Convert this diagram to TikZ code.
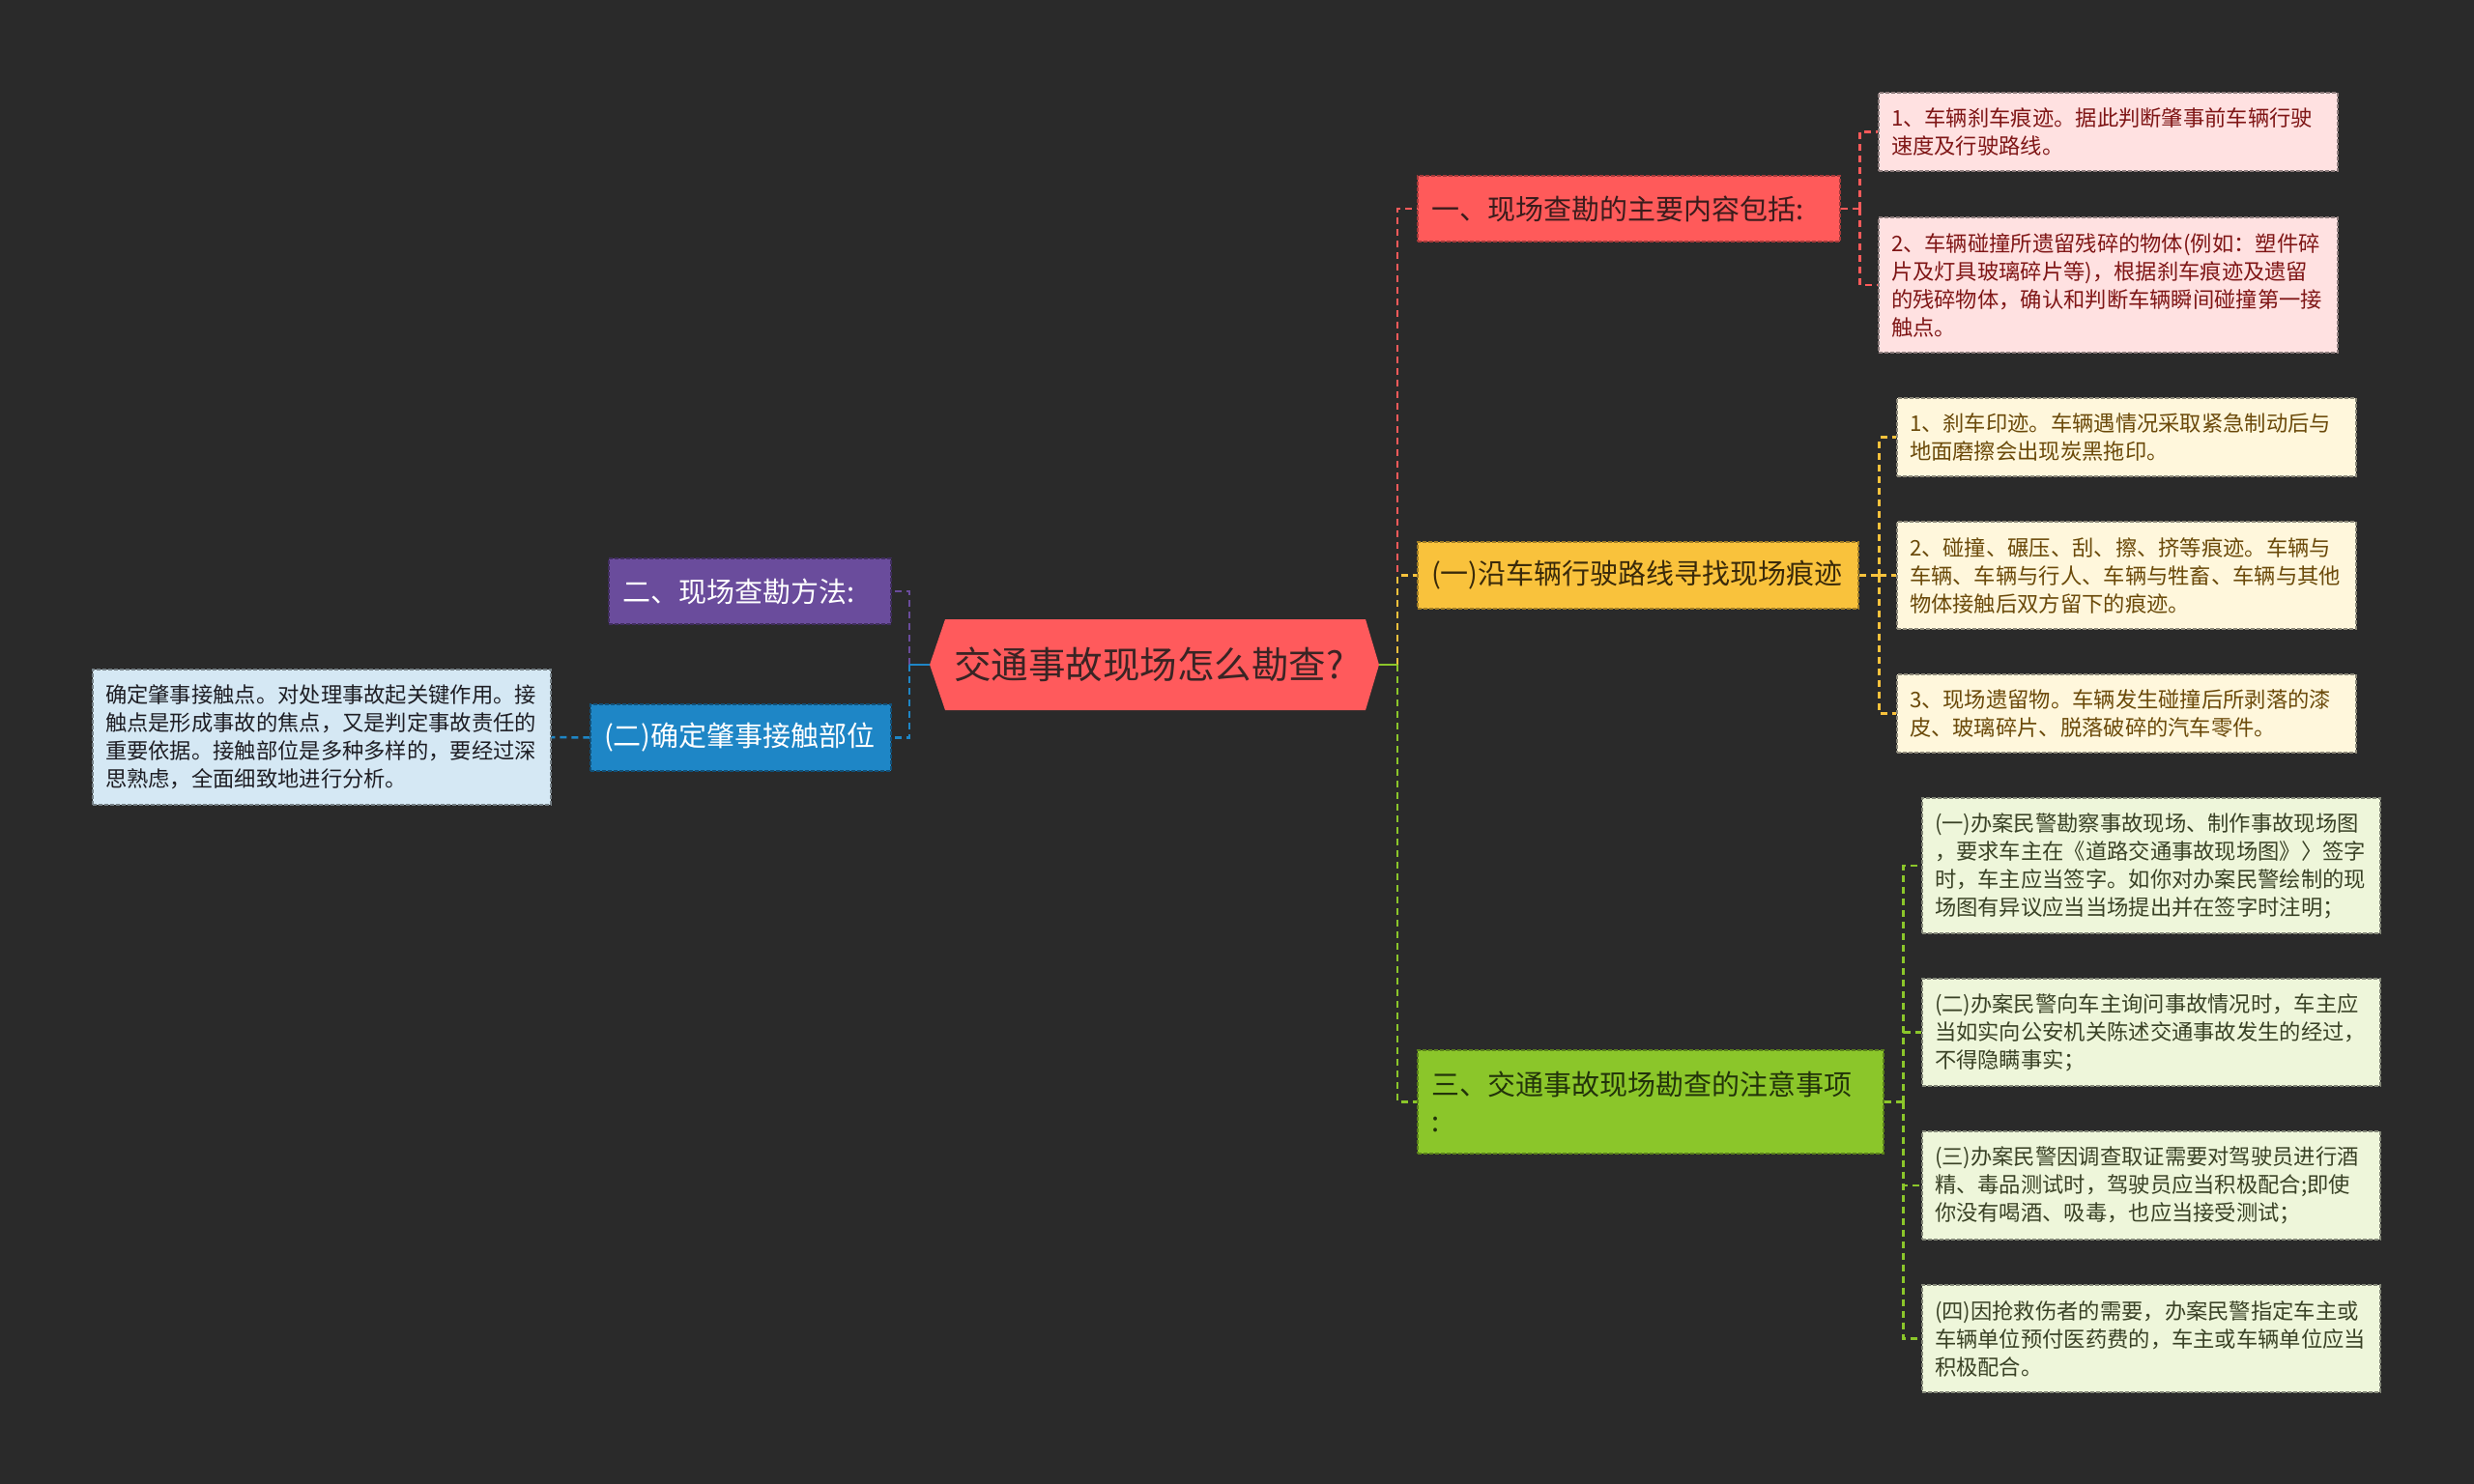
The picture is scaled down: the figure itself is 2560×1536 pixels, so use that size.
\documentclass[tikz,border=0pt]{standalone}
\usepackage{fontspec}
\setmainfont{Noto Sans CJK SC}
\definecolor{bg}{HTML}{2A2A2A}
\definecolor{cenF}{HTML}{FF5A5C}
\definecolor{cenT}{HTML}{3A2424}
\definecolor{redF}{HTML}{FF5A5A}
\definecolor{redT}{HTML}{3A1C1C}
\definecolor{redLF}{HTML}{FFE1E1}
\definecolor{redLT}{HTML}{7F1616}
\definecolor{yelF}{HTML}{F9C23C}
\definecolor{yelT}{HTML}{3A2A0A}
\definecolor{yelLF}{HTML}{FFF7DC}
\definecolor{yelLT}{HTML}{6B4A0A}
\definecolor{grnF}{HTML}{8BC62A}
\definecolor{grnT}{HTML}{22330A}
\definecolor{grnLF}{HTML}{EEF6DA}
\definecolor{grnLT}{HTML}{3A4226}
\definecolor{purF}{HTML}{6A4C9C}
\definecolor{bluF}{HTML}{1E86C6}
\definecolor{bluLF}{HTML}{D5E8F4}
\definecolor{bluLT}{HTML}{1E1E24}
\begin{document}
\begin{tikzpicture}[x=1pt,y=-1pt,
  box/.style={rectangle, draw, dash pattern=on 4pt off 2pt, line width=1.2pt, inner ysep=0pt, align=left, anchor=center},
  mainbox/.style={box, inner xsep=14pt, font=\fontsize{29pt}{38pt}\selectfont},
  leafbox/.style={box, inner xsep=13pt, font=\fontsize{22.3pt}{29pt}\selectfont},
  nRed/.style={mainbox, fill=redF, draw=redF!65!black, text=redT},
  nYel/.style={mainbox, fill=yelF, draw=yelF!65!black, text=yelT},
  nGrn/.style={mainbox, fill=grnF, draw=grnF!65!black, text=grnT},
  nPur/.style={mainbox, fill=purF, draw=purF!60!black, text=white},
  nBlu/.style={mainbox, fill=bluF, draw=bluF!60!black, text=white},
  lRed/.style={leafbox, fill=redLF, draw=redLF!55!black, text=redLT},
  lYel/.style={leafbox, fill=yelLF, draw=yelLF!55!black, text=yelLT},
  lGrn/.style={leafbox, fill=grnLF, draw=grnLF!55!black, text=grnLT},
  lBlu/.style={leafbox, fill=bluLF, draw=bluLF!55!black, text=bluLT},
  link/.style={line width=2.5pt, dash pattern=on 7pt off 5pt},
  solidlink/.style={line width=2.6pt}
]
\fill[bg] (0,0) rectangle (2560,1536);
\useasboundingbox (0,0) rectangle (2560,1536);

% centre
\fill[cenF] (962,688) -- (978,641) -- (1413,641) -- (1427,688) -- (1413,735) -- (978,735) -- cycle;
\node[minimum width=465pt, minimum height=94pt, inner sep=0pt, text=cenT, font=\fontsize{38.5pt}{44pt}\selectfont] (c) at (1189,688) {交通事故现场怎么勘查?};
\coordinate (tr) at (1446,688);
\coordinate (tl) at (941,688);

% main branches
\node[nRed, minimum width=437pt, minimum height=68pt, text width=409pt] (n1) at (1685.5,216) {一、现场查勘的主要内容包括:};
\node[nYel, minimum width=456pt, minimum height=69pt, text width=428pt] (n2) at (1695,595.5) {(一)沿车辆行驶路线寻找现场痕迹};
\node[nGrn, minimum width=482pt, minimum height=107pt, text width=454pt] (n3) at (1708,1140.5) {三、交通事故现场勘查的注意事项\\:};
\node[nPur, minimum width=292pt, minimum height=68pt, text width=264pt] (p) at (776,612) {二、现场查勘方法:};
\node[nBlu, minimum width=311pt, minimum height=69pt, text width=283pt] (b) at (766.5,763.5) {(二)确定肇事接触部位};

% leaves
\node[lRed, minimum width=475pt, minimum height=81pt, text width=449pt] (r1) at (2181.5,136.5) {1、车辆刹车痕迹。据此判断肇事前车辆行驶\\速度及行驶路线。};
\node[lRed, minimum width=475pt, minimum height=140pt, text width=449pt] (r2) at (2181.5,295) {2、车辆碰撞所遗留残碎的物体(例如：塑件碎\\片及灯具玻璃碎片等)，根据刹车痕迹及遗留\\的残碎物体，确认和判断车辆瞬间碰撞第一接\\触点。};
\node[lYel, minimum width=475pt, minimum height=81pt, text width=449pt] (y1) at (2200.5,452.5) {1、刹车印迹。车辆遇情况采取紧急制动后与\\地面磨擦会出现炭黑拖印。};
\node[lYel, minimum width=475pt, minimum height=111pt, text width=449pt] (y2) at (2200.5,595.5) {2、碰撞、碾压、刮、擦、挤等痕迹。车辆与\\车辆、车辆与行人、车辆与牲畜、车辆与其他\\物体接触后双方留下的痕迹。};
\node[lYel, minimum width=475pt, minimum height=81pt, text width=449pt] (y3) at (2200.5,738.5) {3、现场遗留物。车辆发生碰撞后所剥落的漆\\皮、玻璃碎片、脱落破碎的汽车零件。};
\node[lGrn, minimum width=474pt, minimum height=140pt, text width=448pt] (g1) at (2226,896) {(一)办案民警勘察事故现场、制作事故现场图\\，要求车主在《道路交通事故现场图》〉签字\\时，车主应当签字。如你对办案民警绘制的现\\场图有异议应当当场提出并在签字时注明；};
\node[lGrn, minimum width=474pt, minimum height=111pt, text width=448pt] (g2) at (2226,1068.5) {(二)办案民警向车主询问事故情况时，车主应\\当如实向公安机关陈述交通事故发生的经过，\\不得隐瞒事实；};
\node[lGrn, minimum width=474pt, minimum height=112pt, text width=448pt] (g3) at (2226,1227) {(三)办案民警因调查取证需要对驾驶员进行酒\\精、毒品测试时，驾驶员应当积极配合;即使\\你没有喝酒、吸毒，也应当接受测试；};
\node[lGrn, minimum width=474pt, minimum height=111pt, text width=448pt] (g4) at (2226,1385.5) {(四)因抢救伤者的需要，办案民警指定车主或\\车辆单位预付医药费的，车主或车辆单位应当\\积极配合。};
\node[lBlu, minimum width=474pt, minimum height=140pt, text width=448pt] (bl) at (333,763) {确定肇事接触点。对处理事故起关键作用。接\\触点是形成事故的焦点，又是判定事故责任的\\重要依据。接触部位是多种多样的，要经过深\\思熟虑，全面细致地进行分析。};

% connectors: centre to branches
\draw[link, redF] (tr) |- (n1.west);
\draw[link, yelF] (tr) |- (n2.west);
\draw[link, grnF] (tr) |- (n3.west);
\draw[solidlink, grnF] (1427,688) -- (tr);
\draw[link, purF] (tl) |- (p.east);
\draw[link, bluF] (tl) |- (b.east);
\draw[solidlink, bluF] (962,688) -- (tl);

% branch to leaves
\draw[link, redF] (n1.east) -- ++(20,0) coordinate (rj);
\draw[link, redF] (rj) |- (r1.west);
\draw[link, redF] (rj) |- (r2.west);
\draw[link, yelF] (n2.east) -- ++(21,0) coordinate (yj);
\draw[link, yelF] (yj) |- (y1.west);
\draw[link, yelF] (yj) |- (y2.west);
\draw[link, yelF] (yj) |- (y3.west);
\draw[link, grnF] (n3.east) -- ++(20,0) coordinate (gj);
\draw[link, grnF] (gj) |- (g1.west);
\draw[link, grnF] (gj) |- (g2.west);
\draw[link, grnF] (gj) |- (g3.west);
\draw[link, grnF] (gj) |- (g4.west);
\draw[link, bluF] (b.west) -- (bl.east);
\end{tikzpicture}
\end{document}
